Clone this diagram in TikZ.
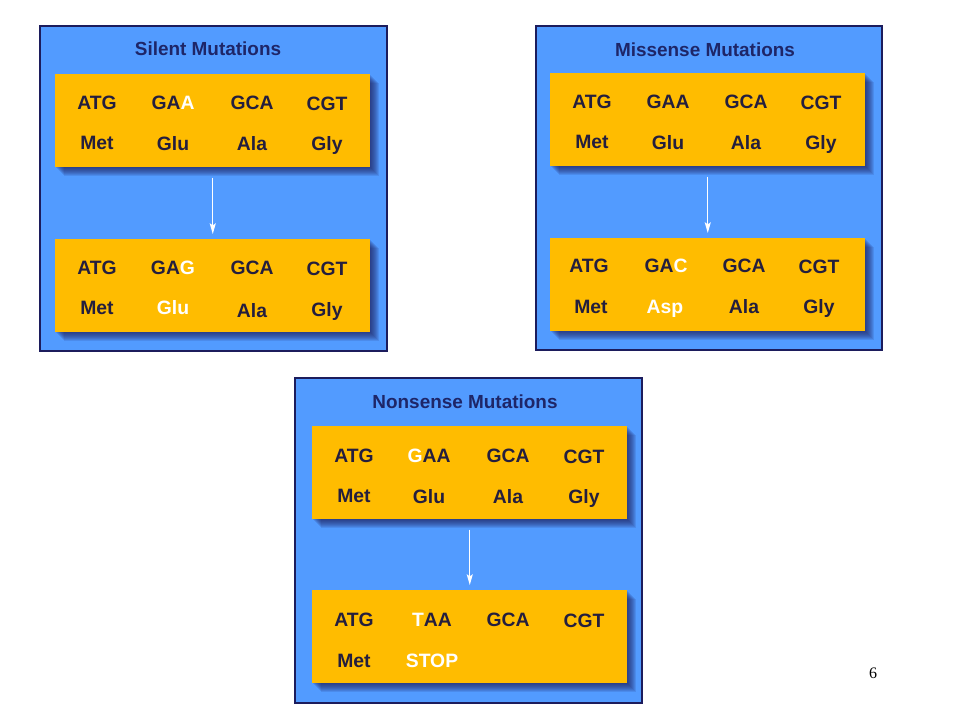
\documentclass[tikz,border=0pt]{standalone}
\usepackage{fontspec}
\setmainfont{Liberation Sans}
\newfontfamily\numfont{Liberation Serif}
\usetikzlibrary{arrows.meta}
\definecolor{panelblue}{RGB}{82,155,255}
\definecolor{navy}{RGB}{28,28,92}
\definecolor{gold}{RGB}{255,188,0}
\definecolor{ink}{RGB}{36,30,62}
\definecolor{titleblue}{RGB}{30,38,104}
\newcommand{\boxshadow}[2]{%
  \foreach \i in {1,...,9} {\fill[navy, opacity=0.12] (#1+\i,#2+\i) rectangle (#1+315+\i,#2+93+\i);}%
}
\begin{document}
\begin{tikzpicture}[x=0.75pt,y=-0.75pt,
  panel/.style={draw=navy, line width=1.6pt, fill=panelblue},
  ybox/.style={fill=gold, draw=none, anchor=north west, minimum width=236.25pt, minimum height=69.75pt, inner sep=0pt},
  codon/.style={font=\bfseries\fontsize{14.5}{17}\selectfont, text=ink, inner sep=0pt, anchor=base},
  ptitle/.style={font=\bfseries\fontsize{14.2}{17}\selectfont, text=titleblue, inner sep=0pt, anchor=base},
  mut/.style={-{Stealth[length=8pt,width=4.5pt,inset=1.5pt]}, white, line width=1pt, shorten <=7.5pt, shorten >=3.75pt}]
\useasboundingbox (0,0) rectangle (960,720);
\fill[white] (0,0) rectangle (960,720);

% ---------- Silent ----------
\node[panel, anchor=north west, minimum width=260.25pt, minimum height=243.75pt, inner sep=0pt] (p1) at (39,25) {};
\node[ptitle] (t1) at (208,56) {Silent Mutations};
\boxshadow{55}{74}
\node[ybox] (a1) at (55,74) {};
\boxshadow{55}{239}
\node[ybox] (a2) at (55,239) {};
\draw[mut] (a1.south) -- (a2.north);
\node[codon] (a1c1) at (97,110) {ATG};
\node[codon] (a1c2) at (173,110) {GA\textcolor{white}{A}};
\node[codon] (a1c3) at (252,110) {GCA};
\node[codon] (a1c4) at (327,111) {CGT};
\node[codon] (a1a1) at (97,150) {Met};
\node[codon] (a1a2) at (173,151) {Glu};
\node[codon] (a1a3) at (252,151) {Ala};
\node[codon] (a1a4) at (327,151) {Gly};
\node[codon] (a2c1) at (97,275) {ATG};
\node[codon] (a2c2) at (173,275) {GA\textcolor{white}{G}};
\node[codon] (a2c3) at (252,275) {GCA};
\node[codon] (a2c4) at (327,276) {CGT};
\node[codon] (a2a1) at (97,315) {Met};
\node[codon, text=white] (a2a2) at (173,315) {Glu};
\node[codon] (a2a3) at (252,317) {Ala};
\node[codon] (a2a4) at (327,316) {Gly};

% ---------- Missense ----------
\node[panel, anchor=north west, minimum width=259.5pt, minimum height=243pt, inner sep=0pt] (p2) at (535,25) {};
\node[ptitle] (t2) at (705,57) {Missense Mutations};
\boxshadow{550}{73}
\node[ybox] (b1) at (550,73) {};
\boxshadow{550}{238}
\node[ybox] (b2) at (550,238) {};
\draw[mut] (b1.south) -- (b2.north);
\node[codon] (b1c1) at (592,109) {ATG};
\node[codon] (b1c2) at (668,109) {GAA};
\node[codon] (b1c3) at (746,109) {GCA};
\node[codon] (b1c4) at (821,110) {CGT};
\node[codon] (b1a1) at (592,149) {Met};
\node[codon] (b1a2) at (668,150) {Glu};
\node[codon] (b1a3) at (746,150) {Ala};
\node[codon] (b1a4) at (821,150) {Gly};
\node[codon] (b2c1) at (589,273) {ATG};
\node[codon] (b2c2) at (666,273) {GA\textcolor{white}{C}};
\node[codon] (b2c3) at (744,273) {GCA};
\node[codon] (b2c4) at (819,274) {CGT};
\node[codon] (b2a1) at (591,313) {Met};
\node[codon, text=white] (b2a2) at (665,314) {Asp};
\node[codon] (b2a3) at (744,314) {Ala};
\node[codon] (b2a4) at (819,314) {Gly};

% ---------- Nonsense ----------
\node[panel, anchor=north west, minimum width=260.25pt, minimum height=243.75pt, inner sep=0pt] (p3) at (294,377) {};
\node[ptitle] (t3) at (465,408) {Nonsense Mutations};
\boxshadow{312}{426}
\node[ybox] (c1) at (312,426) {};
\boxshadow{312}{590}
\node[ybox] (c2) at (312,590) {};
\draw[mut] (c1.south) -- (c2.north);
\node[codon] (c1c1) at (354,462) {ATG};
\node[codon] (c1c2) at (429,462) {\textcolor{white}{G}AA};
\node[codon] (c1c3) at (508,462) {GCA};
\node[codon] (c1c4) at (584,463) {CGT};
\node[codon] (c1a1) at (354,502) {Met};
\node[codon] (c1a2) at (429,503) {Glu};
\node[codon] (c1a3) at (508,503) {Ala};
\node[codon] (c1a4) at (584,503) {Gly};
\node[codon] (c2c1) at (354,626) {ATG};
\node[codon] (c2c2) at (432,626) {\textcolor{white}{T}AA};
\node[codon] (c2c3) at (508,626) {GCA};
\node[codon] (c2c4) at (584,627) {CGT};
\node[codon] (c2a1) at (354,667) {Met};
\node[codon, text=white] (c2a2) at (432,667) {STOP};

\node[font=\numfont\fontsize{12}{14}\selectfont, text=black, inner sep=0pt] (pg) at (873,673) {6};
\end{tikzpicture}
\end{document}
